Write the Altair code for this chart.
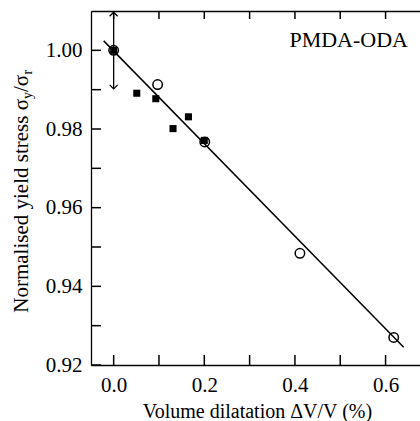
import altair as alt
import pandas as pd

# ---- data ----
open_x = [0.0, 0.097, 0.201, 0.411, 0.618]
open_y = [1.000, 0.9913, 0.9767, 0.9484, 0.9270]

sq_x = [0.0, 0.051, 0.093, 0.131, 0.165, 0.200]
sq_y = [1.000, 0.9891, 0.9877, 0.9801, 0.9831, 0.9771]

fit_x = [-0.022, 0.640]
fit_y = [1.0024, 0.9245]

err_x = [0.0]
err_lo = [0.9902]
err_hi = [1.0097]

x_ticks = [0.0, 0.1, 0.2, 0.3, 0.4, 0.5, 0.6]
y_ticks = [0.92, 0.93, 0.94, 0.95, 0.96, 0.97, 0.98, 0.99, 1.00]

x_domain = [-0.05, 0.676]
y_domain = [0.92, 1.01]

label_text = "PMDA-ODA"
x_title = "Volume dilatation ΔV/V (%)"
y_title_main = "Normalised yield stress σ"
y_title_sub1 = "y"
y_title_mid = "/σ"
y_title_sub2 = "r"

FONT = "Liberation Serif"
W, H = 329, 354

xs = alt.Scale(domain=x_domain, nice=False, zero=False)
ys = alt.Scale(domain=y_domain, nice=False, zero=False)

y_axis = alt.Axis(
    values=y_ticks, title=None, ticks=False, tickSize=0, labelPadding=9,
    labelExpr="round(datum.value*100) % 2 == 0 ? format(datum.value, '.2f') : ''",
    labelFont=FONT, labelFontSize=21, labelColor="black",
    domainColor="black", domainWidth=1.3, grid=False,
)

x_axis_bottom = alt.Axis(
    values=x_ticks, ticks=False, tickSize=0, labelPadding=9,
    labelExpr="round(datum.value*10) % 2 == 0 ? format(datum.value, '.1f') : ''",
    labelFont=FONT, labelFontSize=21, labelColor="black",
    domainColor="black", domainWidth=1.3, grid=False,
    title=x_title, titleFont=FONT, titleFontSize=20, titleFontWeight="normal",
    titleColor="black", titleX=166, titleY=52, titleBaseline="alphabetic",
    titleAlign="center",
)

x_axis_top = alt.Axis(
    orient="top", labels=False, ticks=False, grid=False, title=None,
    domainColor="black", domainWidth=1.3,
)

sq_df = pd.DataFrame({"x": sq_x, "y": sq_y})
open_df = pd.DataFrame({"x": open_x, "y": open_y})
fit_df = pd.DataFrame({"x": fit_x, "y": fit_y})
err_df = pd.DataFrame({"x": err_x, "lo": err_lo, "hi": err_hi})
xt_df = pd.DataFrame({"x": x_ticks})
yt_df = pd.DataFrame({"y": y_ticks})

squares = alt.Chart(sq_df).mark_point(
    shape="square", filled=True, color="black", size=50, opacity=1
).encode(
    x=alt.X("x:Q", scale=xs, axis=x_axis_bottom),
    y=alt.Y("y:Q", scale=ys, axis=y_axis),
)

fit = alt.Chart(fit_df).mark_line(color="black", strokeWidth=1.5).encode(
    x=alt.X("x:Q", scale=xs, axis=x_axis_top),
    y=alt.Y("y:Q", scale=ys, axis=y_axis),
)

circles = alt.Chart(open_df).mark_point(
    shape="circle", filled=False, color="black", size=90, strokeWidth=1.5, opacity=1
).encode(
    x=alt.X("x:Q", scale=xs, axis=None),
    y=alt.Y("y:Q", scale=ys, axis=y_axis),
)

err_line = alt.Chart(err_df).mark_rule(color="black", strokeWidth=1.3).encode(
    x=alt.X("x:Q", scale=xs, axis=None),
    y=alt.Y("lo:Q", scale=ys, axis=y_axis),
    y2="hi:Q",
)

arrow_up = alt.Chart(err_df).mark_point(
    shape="M -1 1 L 0 0 L 1 1", filled=False, color="black", size=64,
    strokeWidth=1.3, opacity=1
).encode(
    x=alt.X("x:Q", scale=xs, axis=None),
    y=alt.Y("hi:Q", scale=ys, axis=y_axis),
)

arrow_down = alt.Chart(err_df).mark_point(
    shape="M -1 -1 L 0 0 L 1 -1", filled=False, color="black", size=64,
    strokeWidth=1.3, opacity=1
).encode(
    x=alt.X("x:Q", scale=xs, axis=None),
    y=alt.Y("lo:Q", scale=ys, axis=y_axis),
)

# inward ticks drawn as short tick marks inside the frame
ticks_bottom = alt.Chart(xt_df).mark_tick(
    color="black", thickness=1.5, size=10, orient="vertical", opacity=1
).encode(
    x=alt.X("x:Q", scale=xs, axis=None),
    y=alt.value(H - 5),
)
ticks_top = alt.Chart(xt_df).mark_tick(
    color="black", thickness=1.5, size=8, orient="vertical", opacity=1
).encode(
    x=alt.X("x:Q", scale=xs, axis=None),
    y=alt.value(4),
)
ticks_left = alt.Chart(yt_df).mark_tick(
    color="black", thickness=1.5, size=10, orient="horizontal", opacity=1
).encode(
    y=alt.Y("y:Q", scale=ys, axis=y_axis),
    x=alt.value(5),
)

def txt(s, x, y, size, align, angle=0):
    return alt.Chart(pd.DataFrame({"t": [s]})).mark_text(
        font=FONT, fontSize=size, color="black", align=align,
        baseline="alphabetic", angle=angle,
    ).encode(x=alt.value(x), y=alt.value(y), text="t:N")

label = txt(label_text, 317, 36, 22, "right")
yt_main = txt(y_title_main, -63, 88, 21, "right", 270)
yt_sub1 = txt(y_title_sub1, -59, 88, 14, "left", 270)
yt_mid = txt(y_title_mid, -63, 81, 21, "left", 270)
yt_sub2 = txt(y_title_sub2, -59, 63.5, 14, "left", 270)

chart = alt.layer(
    squares, fit, ticks_bottom, ticks_top, ticks_left,
    err_line, arrow_up, arrow_down, circles,
    label, yt_main, yt_sub1, yt_mid, yt_sub2,
).resolve_axis(x="independent").properties(
    width=W, height=H,
    autosize=alt.AutoSizeParams(type="none"),
    padding={"left": 91, "top": 11, "right": 0, "bottom": 56},
).configure_view(stroke=None).configure(background="white")

chart.save("out.html", embed_options={"renderer": "svg", "actions": False})
